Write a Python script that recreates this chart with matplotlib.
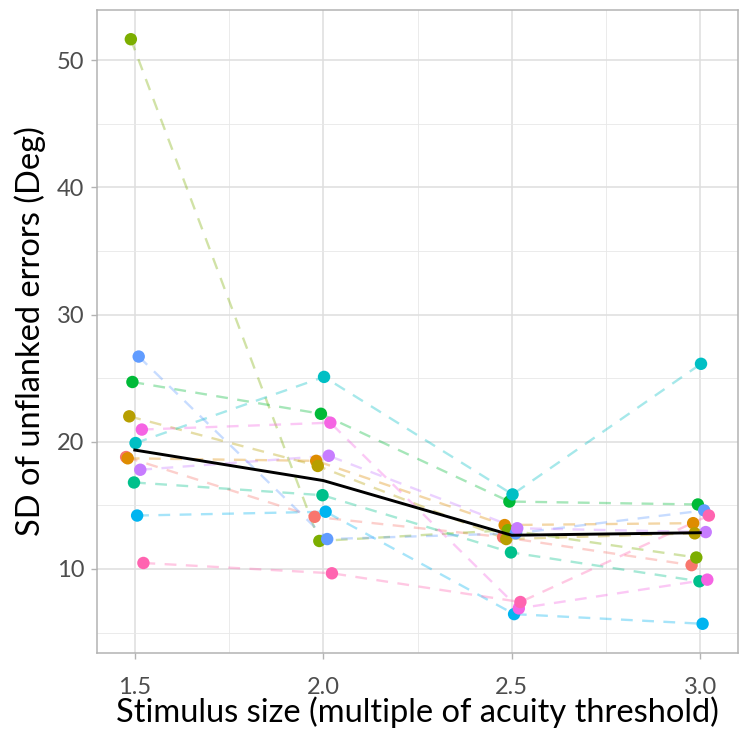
import numpy as np
import matplotlib
matplotlib.use("Agg")
import matplotlib.pyplot as plt
from matplotlib.ticker import MultipleLocator, FormatStrFormatter

plt.rcParams["font.family"] = ["Lato", "DejaVu Sans"]

# Stimulus sizes (multiples of acuity threshold)
sizes = [1.5, 2.0, 2.5, 3.0]

# SD of unflanked errors (deg) per observer, one value per stimulus size
s01 = [18.8, 14.1, 12.5, 10.3]
s02 = [18.7, 18.5, 13.45, 13.6]
s03 = [22.0, 18.1, 12.35, 12.8]
s04 = [51.65, 12.2, 13.05, 10.9]
s05 = [24.7, 22.2, 15.3, 15.07]
s06 = [16.8, 15.8, 11.3, 9.03]
s07 = [19.9, 25.1, 15.86, 26.13]
s08 = [14.2, 14.5, 6.45, 5.69]
s09 = [26.7, 12.35, 12.8, 14.6]
s10 = [17.8, 18.9, 13.2, 12.9]
s11 = [20.96, 21.5, 6.9, 9.16]
s12 = [10.47, 9.66, 7.4, 14.2]

observers = [s01, s02, s03, s04, s05, s06, s07, s08, s09, s10, s11, s12]

# default ggplot hue palette for 12 groups
palette = ["#F8766D", "#DE8C00", "#B79F00", "#7CAE00", "#00BA38", "#00C08B",
           "#00BFC4", "#00B4F0", "#619CFF", "#C77CFF", "#F564E3", "#FF64B0"]

DODGE = 0.05

fig = plt.figure(figsize=(7.39, 7.35), dpi=100)
ax = fig.add_axes([97 / 739, 82 / 735, 641 / 739, 643 / 735])

x = np.array(sizes)
n = len(observers)
for i, (vals, col) in enumerate(zip(observers, palette)):
    off = (i - (n - 1) / 2) / n * DODGE
    ax.plot(x + off, vals, color=col, lw=1.7, alpha=0.35,
            dashes=(5, 4), zorder=2, solid_capstyle="butt")
for i, (vals, col) in enumerate(zip(observers, palette)):
    off = (i - (n - 1) / 2) / n * DODGE
    ax.scatter(x + off, vals, s=80, color=col, edgecolors="none", zorder=3 + i * 0.01)

# median across observers
median = np.median(np.array(observers), axis=0)
ax.plot(x, median, color="black", lw=2.1, zorder=5)

ax.margins(x=0.05, y=0.05)

ax.xaxis.set_major_locator(MultipleLocator(0.5))
ax.xaxis.set_minor_locator(MultipleLocator(0.25))
ax.yaxis.set_major_locator(MultipleLocator(10))
ax.yaxis.set_minor_locator(MultipleLocator(5))
ax.xaxis.set_major_formatter(FormatStrFormatter("%.1f"))

ax.grid(which="major", color="#DEDEDE", lw=1.1)
ax.grid(which="minor", color="#E8E8E8", lw=0.6)
ax.set_axisbelow(True)

for sp in ax.spines.values():
    sp.set_color("#B3B3B3")
    sp.set_linewidth(1.1)

ax.tick_params(which="major", length=4, width=1.0, color="#B3B3B3",
               labelsize=17, labelcolor="#4D4D4D", pad=5)
ax.tick_params(axis="x", which="major", pad=13)
ax.tick_params(which="minor", length=0)

ax.set_xlabel("Stimulus size (multiple of acuity threshold)", fontsize=23.5,
              color="black", labelpad=-1)
ax.set_ylabel("SD of unflanked errors (Deg)", fontsize=23.5, color="black",
              labelpad=8)

fig.savefig("out.png", dpi=100, facecolor="white")
